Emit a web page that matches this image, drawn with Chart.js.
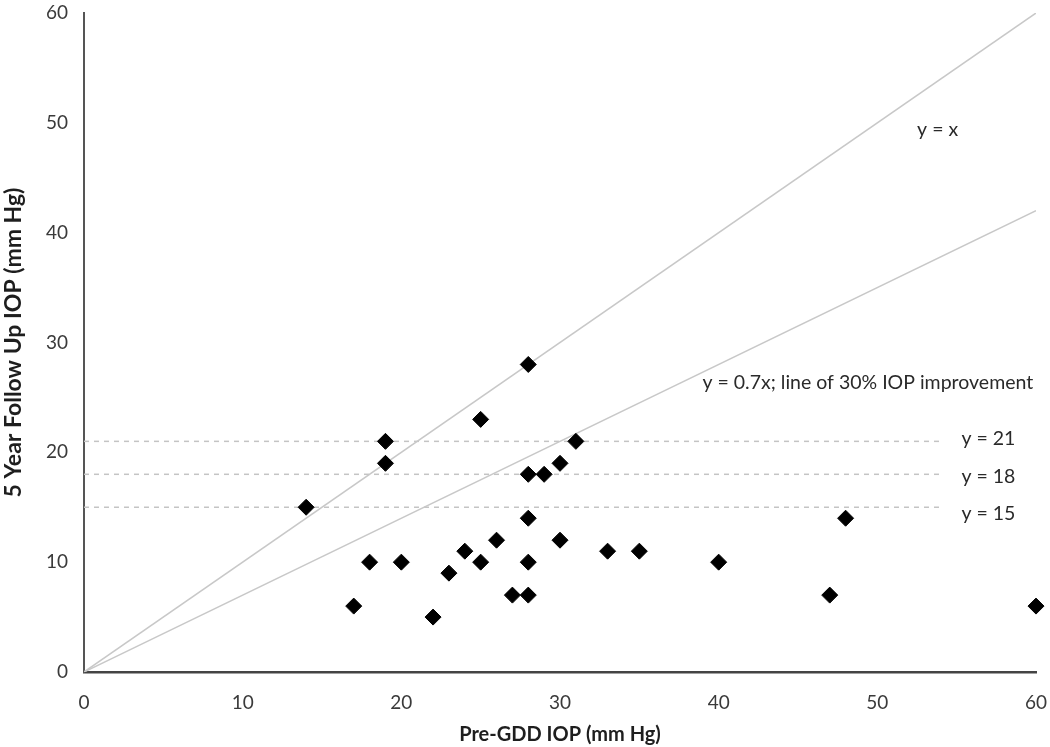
<!DOCTYPE html>
<html>
<head>
<meta charset="utf-8">
<script src="https://cdn.jsdelivr.net/npm/chart.js@4/dist/chart.umd.min.js"></script>
<style>
  html, body { margin: 0; padding: 0; background: #fff; }
  #wrap { width: 1050px; height: 747px; position: relative; }
</style>
</head>
<body>
<div id="wrap"><canvas id="c"></canvas></div>
<script>
// ---- data ----
const preIOP =   [14, 17, 18, 19, 19, 20, 22, 23, 24, 25, 25, 26, 27, 28, 28, 28, 28, 28, 29, 30, 30, 31, 33, 35, 40, 47, 48, 60];
const followIOP = [15,  6, 10, 21, 19, 10,  5,  9, 11, 23, 10, 12,  7, 28, 18, 14, 10,  7, 18, 19, 12, 21, 11, 11, 10,  7, 14,  6];

const identityX = [0, 60];
const identityY = [0, 60];
const improveX  = [0, 60];
const improveY  = [0, 42];

const targetLevels = [21, 18, 15];
const targetLineX  = [0, 54];

const xTicks = [0, 10, 20, 30, 40, 50, 60];
const yTicks = [0, 10, 20, 30, 40, 50, 60];

const xTitle = 'Pre-GDD IOP (mm Hg)';
const yTitle = '5 Year Follow Up IOP (mm Hg)';

const noteTexts = ['y = x', 'y = 0.7x; line of 30% IOP improvement', 'y = 21', 'y = 18', 'y = 15'];
const noteX = [53.8, 49.4, 57, 57, 57];
const noteY = [49.4, 26.3, 21.2, 17.8, 14.4];

// ---- build datasets ----
const pts = preIOP.map((x, i) => ({ x, y: followIOP[i] }));
const toXY = (xs, ys) => xs.map((x, i) => ({ x, y: ys[i] }));

const datasets = [
  {
    label: 'Eyes',
    data: pts,
    pointStyle: 'rectRot',
    pointRadius: 8,
    pointBackgroundColor: '#000',
    pointBorderColor: '#000',
    pointBorderWidth: 1,
    showLine: false,
    clip: false
  },
  {
    label: 'y = x',
    data: toXY(identityX, identityY),
    showLine: true, borderColor: '#c8c8c8', borderWidth: 1.5, pointRadius: 0, fill: false
  },
  {
    label: 'y = 0.7x',
    data: toXY(improveX, improveY),
    showLine: true, borderColor: '#c8c8c8', borderWidth: 1.5, pointRadius: 0, fill: false
  }
];
targetLevels.forEach(v => {
  datasets.push({
    label: 'y = ' + v,
    data: targetLineX.map(x => ({ x, y: v })),
    showLine: true, borderColor: '#c4c4c4', borderWidth: 1.5, borderDash: [5, 5],
    pointRadius: 0, fill: false
  });
});

const fontFamily = 'Lato, "Open Sans", sans-serif';

const notesPlugin = {
  id: 'notes',
  afterDatasetsDraw(chart) {
    const { ctx, scales: { x, y } } = chart;
    ctx.save();
    ctx.font = '19.5px ' + fontFamily;
    ctx.fillStyle = '#2a2a2a';
    ctx.textAlign = 'center';
    ctx.textBaseline = 'middle';
    noteTexts.forEach((t, i) => {
      ctx.fillText(t, x.getPixelForValue(noteX[i]), y.getPixelForValue(noteY[i]));
    });
    ctx.restore();
  }
};

const zeroPad = s => { s.paddingTop = 0; s.paddingBottom = 0; s.paddingLeft = 0; s.paddingRight = 0; };

new Chart(document.getElementById('c'), {
  type: 'scatter',
  data: { datasets },
  options: {
    responsive: true,
    maintainAspectRatio: false,
    animation: false,
    layout: { autoPadding: false, padding: { left: 0, right: 14, top: 13, bottom: 0 } },
    plugins: { legend: { display: false }, tooltip: { enabled: false } },
    scales: {
      x: {
        type: 'linear', min: 0, max: 60,
        afterBuildTicks: s => { s.ticks = xTicks.map(v => ({ value: v })); },
        afterFit: s => { s.height = 75; zeroPad(s); },
        grid: { display: false, drawTicks: false },
        border: { display: true, color: '#444', width: 2.5 },
        ticks: { color: '#3a3a3a', font: { family: fontFamily, size: 19 }, padding: 19, maxRotation: 0 },
        title: { display: true, text: xTitle, color: '#1e1e1e', font: { family: fontFamily, size: 20, weight: 'bold' }, padding: { top: 4, bottom: 0 } }
      },
      y: {
        type: 'linear', min: 0, max: 60,
        afterBuildTicks: s => { s.ticks = yTicks.map(v => ({ value: v })); },
        afterFit: s => { s.width = 84; zeroPad(s); },
        grid: { display: false, drawTicks: false },
        border: { display: true, color: '#555', width: 2 },
        ticks: { color: '#3a3a3a', font: { family: fontFamily, size: 19 }, padding: 16 },
        title: { display: true, text: yTitle, color: '#1e1e1e', font: { family: fontFamily, size: 23, weight: 'bold' }, padding: { top: 0, bottom: 4 } }
      }
    }
  },
  plugins: [notesPlugin]
});
</script>
</body>
</html>
